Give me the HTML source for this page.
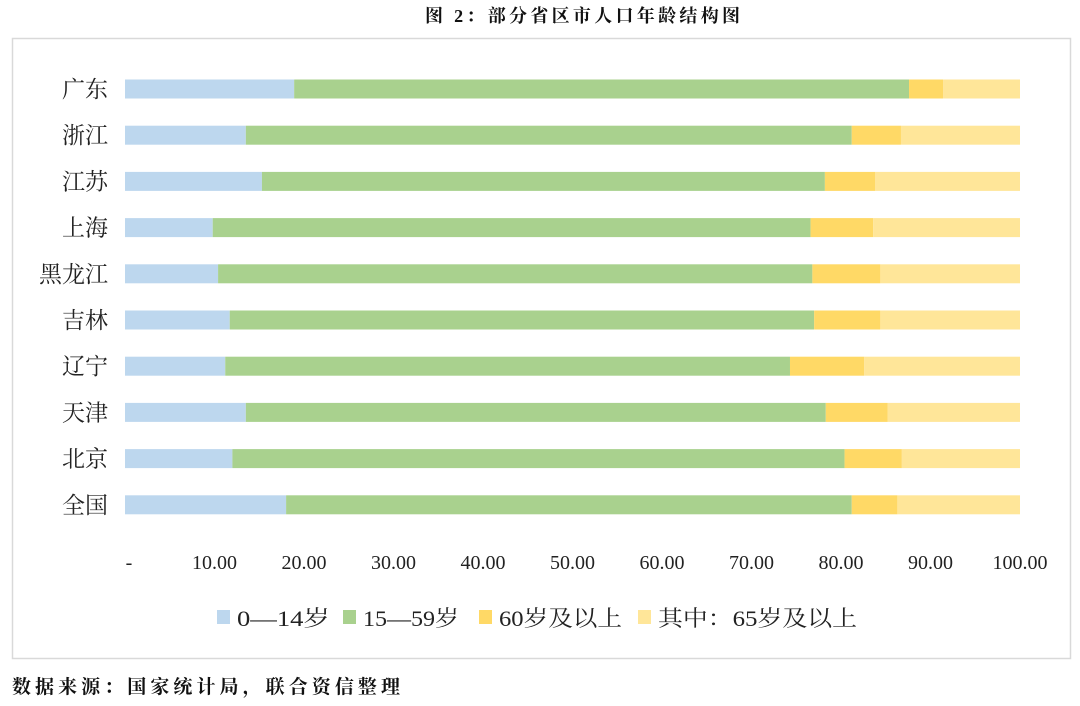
<!DOCTYPE html>
<html><head><meta charset="utf-8"><style>
body{margin:0;background:#fff;width:1080px;height:701px;overflow:hidden;font-family:"Liberation Serif","Noto Serif CJK SC",serif;}
</style></head><body>
<svg width="1080" height="701" xmlns="http://www.w3.org/2000/svg" id="chart">
<text x="425" y="22" font-size="18" font-weight="bold" fill="#111" textLength="315" lengthAdjust="spacing" font-family="'Liberation Serif','Noto Serif CJK SC',serif">图 2：部分省区市人口年龄结构图</text>
<rect x="12.5" y="38.5" width="1058" height="620" fill="none" stroke="#d9d9d9" stroke-width="1.5"/>
<g id="bars"></g>
<g id="ylabels"></g>
<g id="xticks"></g>
<g id="legend"></g>
<text x="12" y="693" font-size="19" font-weight="bold" fill="#111" textLength="388" lengthAdjust="spacing" font-family="'Noto Serif CJK SC',serif">数据来源：国家统计局，联合资信整理</text>
</svg>
<script>
const categories=["广东","浙江","江苏","上海","黑龙江","吉林","辽宁","天津","北京","全国"];
const age0to14=[18.9,13.5,15.3,9.8,10.4,11.7,11.2,13.5,12.0,18.0];
const age15to59=[68.7,67.7,62.9,66.8,66.4,65.3,63.1,64.8,68.4,63.2];
const age60plus=[3.8,5.5,5.6,7.0,7.6,7.4,8.3,6.9,6.4,5.1];
const age65plus=[8.6,13.3,16.2,16.4,15.6,15.6,17.4,14.8,13.2,13.7];
const seriesNames=["0—14岁","15—59岁","60岁及以上","其中：65岁及以上"];
const tickValues=[0,10,20,30,40,50,60,70,80,90,100];
const tickLabels=["-","10.00","20.00","30.00","40.00","50.00","60.00","70.00","80.00","90.00","100.00"];
const colors=["#bdd7ee","#a9d18e","#ffd966","#ffe699"];
const NS="http://www.w3.org/2000/svg";
const x=v=>125+v*8.95;
const yc=i=>89+i*46.2;
const series=[age0to14,age15to59,age60plus,age65plus];
const keys=["0-14","15-59","60plus","65plus"];
function mk(t,a,p){const e=document.createElementNS(NS,t);for(const k in a)e.setAttribute(k,a[k]);p.appendChild(e);return e;}
const gb=document.getElementById('bars'),gy=document.getElementById('ylabels'),gx=document.getElementById('xticks'),gl=document.getElementById('legend');
categories.forEach((c,i)=>{
  let acc=0;
  series.forEach((s,j)=>{
    const r=mk('rect',{x:x(acc),y:yc(i)-9.5,width:x(acc+s[i])-x(acc),height:19,fill:colors[j]},gb);
    
    
    acc+=s[i];
  });
  const t=mk('text',{x:108,y:yc(i)+8,'text-anchor':'end','font-size':23,fill:'#222'},gy);
  t.textContent=c;
  
  
});
tickValues.forEach((v,i)=>{
  const t=mk('text',{x:i===0?x(v)+4:x(v),y:569,'text-anchor':'middle','font-size':20,fill:'#222'},gx);
  t.textContent=tickLabels[i];
  
  
});
const lx=[217,343,479,638];
const lw=[93,96,123,199];
seriesNames.forEach((n,j)=>{
  const r=mk('rect',{x:lx[j],y:610,width:13,height:14,fill:colors[j]},gl);
  
  
  const t=mk('text',{x:lx[j]+20,y:626,'font-size':22,fill:'#222',textLength:lw[j],lengthAdjust:'spacingAndGlyphs'},gl);
  t.textContent=n;
  
  
});
</script>
</body></html>
